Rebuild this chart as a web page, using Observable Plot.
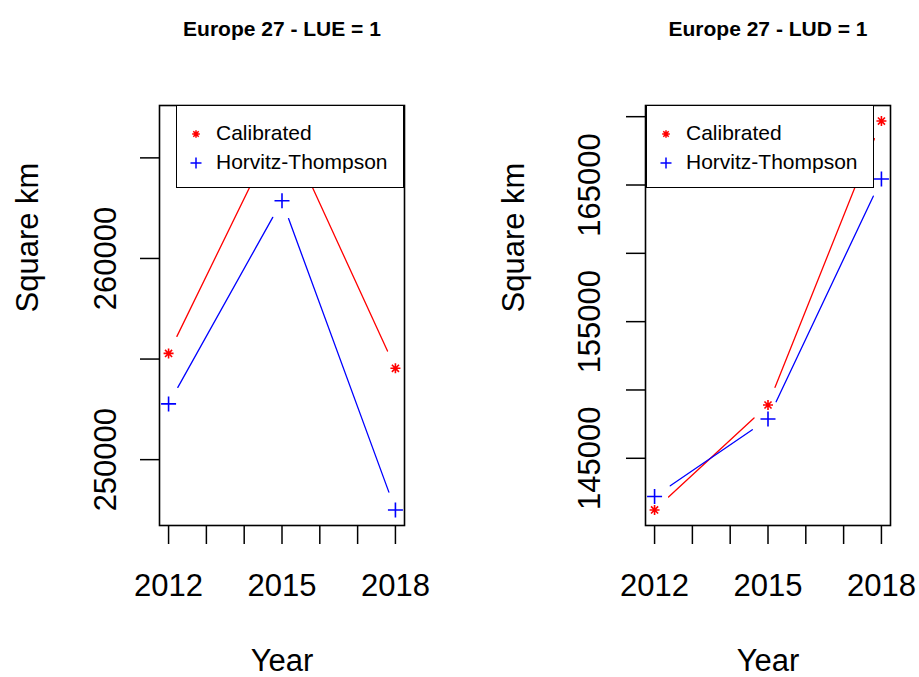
<!DOCTYPE html>
<html>
<head>
<meta charset="utf-8">
<script src="https://cdn.jsdelivr.net/npm/d3@7"></script>
<script src="https://cdn.jsdelivr.net/npm/@observablehq/plot@0.6"></script>
<style>
  body { margin: 0; background: #fff; font-family: "Liberation Sans", Arial, sans-serif; }
  #wrap { position: relative; width: 919px; height: 677px; overflow: hidden; }
  .panel { position: absolute; top: 0; }
  .legend { position: absolute; background: #fff; border: 1.5px solid #000; box-sizing: border-box; }
  .legend span { position: absolute; font-size: 21px; line-height: 21px; color: #000; white-space: nowrap; }
  .legend svg { position: absolute; overflow: visible; }
</style>
</head>
<body>
<div id="wrap"></div>
<script>
// ---- data ----
const years = [2012, 2015, 2018];
const seriesNames = ["Calibrated", "Horvitz-Thompson"];
const seriesColors = ["#ff0000", "#0000ff"];
const lueCalibrated = [255280, 266830, 254540];
const lueHT = [252770, 262870, 247500];
const ludCalibrated = [141220, 148900, 169680];
const ludHT = [142200, 147880, 165440];
const titles = ["Europe 27 - LUE = 1", "Europe 27 - LUD = 1"];
const xLabel = "Year";
const yLabel = "Square km";
const yearTicks = [2012, 2013, 2014, 2015, 2016, 2017, 2018];
const yearLabels = [2012, 2015, 2018];
const lueYTicks = [250000, 255000, 260000, 265000];
const lueYLabels = [250000, 260000];
const ludYTicks = [145000, 150000, 155000, 160000, 165000, 170000];
const ludYLabels = [145000, 155000, 165000];

// R-style 4% axis extension
function rDomain(vals) {
  const [a, b] = d3.extent(vals);
  const e = (b - a) * 0.04;
  return [a - e, b + e];
}

// R pch 8 (8-armed asterisk) and pch 3 (plus)
const starSymbol = {
  draw(ctx, size) {
    const r = Math.sqrt(size / Math.PI), d = r * Math.SQRT1_2;
    ctx.moveTo(0, -r); ctx.lineTo(0, r);
    ctx.moveTo(-r, 0); ctx.lineTo(r, 0);
    ctx.moveTo(-d, -d); ctx.lineTo(d, d);
    ctx.moveTo(-d, d); ctx.lineTo(d, -d);
  }
};
const plusSymbol = {
  draw(ctx, size) {
    const r = Math.sqrt(size / Math.PI);
    ctx.moveTo(0, -r); ctx.lineTo(0, r);
    ctx.moveTo(-r, 0); ctx.lineTo(r, 0);
  }
};
const symbols = [starSymbol, plusSymbol];
const symbolR = [5, 7.5];

const FONT = "Liberation Sans, Arial, sans-serif";

function panel({title, series, yTicks, yLabels, width, marginLeft, marginRight, yPad}) {
  const allVals = series.flat();
  const yDomain = rDomain(allVals);
  const xDomain = rDomain(years);
  const pts = [];
  const segs = [];
  series.forEach((vals, s) => {
    vals.forEach((v, i) => pts.push({year: years[i], value: v, s}));
    d3.pairs(vals.map((v, i) => ({year: years[i], value: v}))).forEach(([a, b]) =>
      segs.push({x1: a.year, y1: a.value, x2: b.year, y2: b.value, s}));
  });
  const marks = [];
  series.forEach((vals, s) => {
    marks.push(Plot.arrow(segs.filter(d => d.s === s), {
      x1: "x1", y1: "y1", x2: "x2", y2: "y2",
      stroke: seriesColors[s], strokeWidth: 1.3, headLength: 0,
      insetStart: 19, insetEnd: 19
    }));
    marks.push(Plot.dot(pts.filter(d => d.s === s), {
      x: "year", y: "value", symbol: symbols[s], r: symbolR[s],
      stroke: seriesColors[s], fill: "none", strokeWidth: 1.6
    }));
  });
  marks.push(
    Plot.frame({stroke: "#000", strokeWidth: 1.6}),
    Plot.axisX(yearTicks, {
      tickSize: 19, tickPadding: 29, strokeWidth: 1.5, fontSize: 31, label: null,
      tickFormat: d => yearLabels.includes(d) ? String(d) : ""
    }),
    Plot.axisY(yTicks, {
      tickSize: 19, tickPadding: yPad, tickRotate: -90, strokeWidth: 1.5, fontSize: 31, label: null,
      tickFormat: d => yLabels.includes(d) ? String(d) : ""
    }),
    Plot.text([title], {frameAnchor: "top", text: d => d, lineAnchor: "bottom", dy: -70,
      fontWeight: "bold", fontSize: 21, fill: "#000"}),
    Plot.text([xLabel], {frameAnchor: "bottom", text: d => d, lineAnchor: "bottom", dy: 145,
      fontSize: 31, fill: "#000"}),
    Plot.text([yLabel], {frameAnchor: "left", text: d => d, lineAnchor: "bottom", rotate: -90,
      dx: -122, dy: -3, fontSize: 31, fill: "#000"})
  );
  return Plot.plot({
    width, height: 677,
    marginLeft, marginRight, marginTop: 105, marginBottom: 152,
    x: {domain: xDomain, axis: null},
    y: {domain: yDomain, axis: null},
    style: {fontFamily: FONT, color: "#000", background: "transparent", overflow: "visible"},
    marks
  });
}

function legend(left, top) {
  const div = document.createElement("div");
  div.className = "legend";
  Object.assign(div.style, {left: left + "px", top: top + "px", width: "228px", height: "83px"});
  const rows = [28, 56.5];
  seriesNames.forEach((name, s) => {
    const svg = d3.create("svg").attr("width", 1).attr("height", 1)
      .style("left", "19px").style("top", rows[s] + "px");
    const r = s === 0 ? 3.8 : 5.5;
    svg.append("path")
      .attr("d", d3.symbol(symbols[s], Math.PI * r * r)())
      .attr("fill", "none").attr("stroke", seriesColors[s]).attr("stroke-width", 1.5);
    div.appendChild(svg.node());
    const span = document.createElement("span");
    span.textContent = name;
    span.style.left = "39px";
    span.style.top = (rows[s] - 10.5 - 1.5) + "px";
    div.appendChild(span);
  });
  return div;
}

const wrap = document.getElementById("wrap");
const p1 = panel({title: titles[0], series: [lueCalibrated, lueHT], yTicks: lueYTicks, yLabels: lueYLabels,
  width: 460, marginLeft: 159, marginRight: 56, yPad: 25});
p1.classList.add("panel"); p1.style.left = "0px";
wrap.appendChild(p1);
const p2 = panel({title: titles[1], series: [ludCalibrated, ludHT], yTicks: ludYTicks, yLabels: ludYLabels,
  width: 459, marginLeft: 185, marginRight: 29, yPad: 27});
p2.classList.add("panel"); p2.style.left = "460px";
wrap.appendChild(p2);
wrap.appendChild(legend(176, 105));
wrap.appendChild(legend(646, 105));
</script>
</body>
</html>
